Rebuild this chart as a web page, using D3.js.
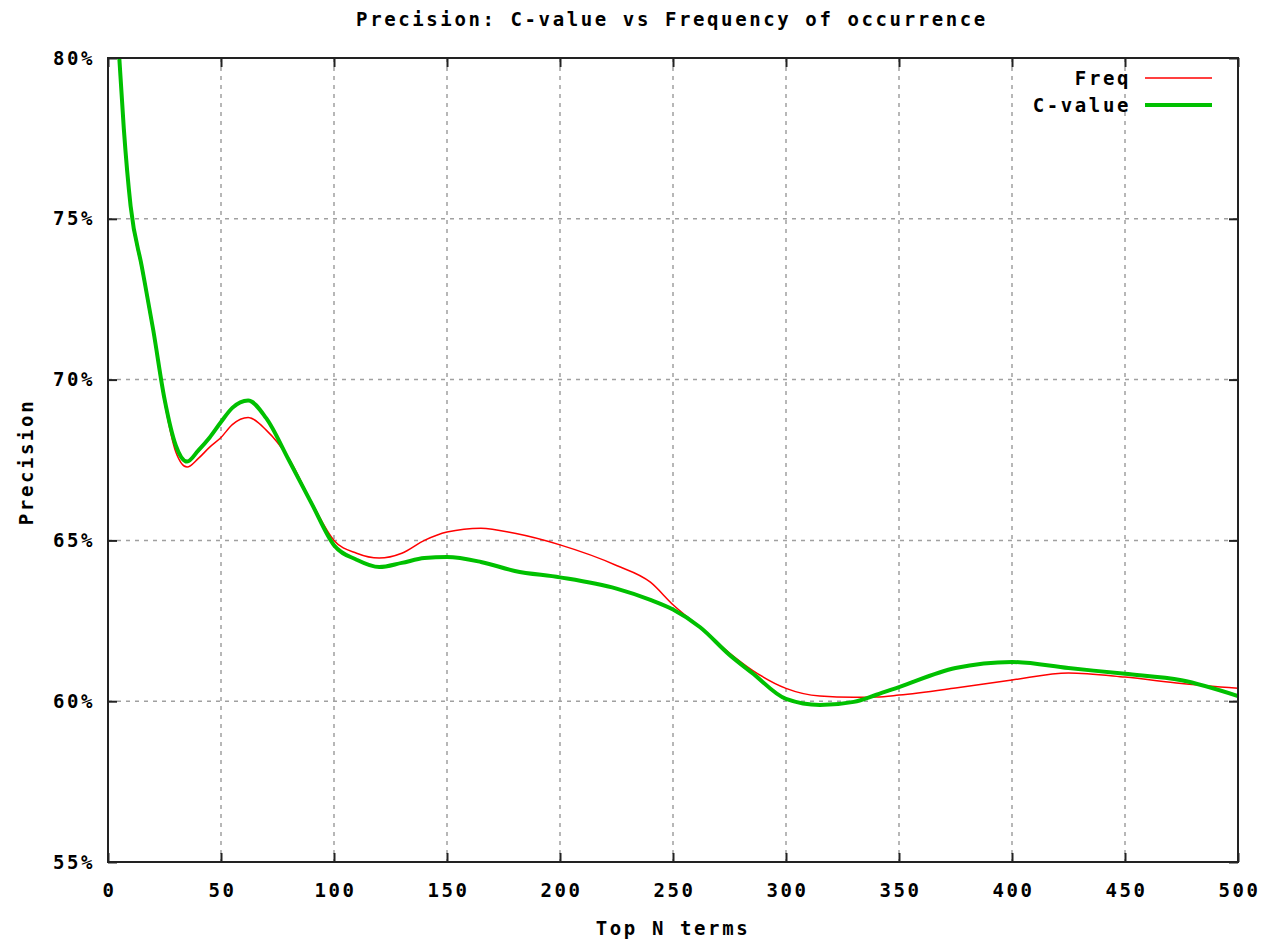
<!DOCTYPE html>
<html>
<head>
<meta charset="utf-8">
<script src="https://cdn.jsdelivr.net/npm/d3@7"></script>
<style>
  body { margin: 0; background: #fff; }
  text { font-family: "DejaVu Sans Mono", "Liberation Mono", monospace; font-weight: bold; font-size: 19px; letter-spacing: 2.6px; fill: #000; }
</style>
</head>
<body>
<div id="chart"></div>
<script>
const width = 1266, height = 940,
    left = 108, top_ = 58, right = 1238, bottom = 862,
    tick_len = 9, grid_color = "#a0a0a0", border_color = "#222",
    freq_color = "#ff0000", cvalue_color = "#00c000"

// Top N terms
const topN = [5, 7, 10, 15, 20, 25, 30, 35, 40, 45, 50, 55, 62, 70, 80, 90, 100, 110, 120, 130, 140, 150, 165, 180, 200, 225, 240, 250, 262, 275, 285, 300, 315, 330, 340, 350, 375, 400, 425, 450, 475, 500]

// precision in %
const freq = [80.0, 77.7, 75.3, 73.4, 71.45, 69.3, 67.75, 67.28, 67.55, 67.9, 68.2, 68.6, 68.82, 68.43, 67.55, 66.2, 65.0, 64.6, 64.45, 64.6, 65.0, 65.26, 65.38, 65.22, 64.86, 64.22, 63.7, 63.0, 62.3, 61.5, 60.97, 60.4, 60.16, 60.12, 60.13, 60.19, 60.41, 60.66, 60.88, 60.75, 60.55, 60.4]
const cvalue = [80.0, 77.8, 75.4, 73.5, 71.55, 69.4, 67.95, 67.45, 67.8, 68.2, 68.68, 69.12, 69.35, 68.8, 67.5, 66.16, 64.85, 64.4, 64.17, 64.3, 64.45, 64.48, 64.33, 64.05, 63.85, 63.5, 63.15, 62.85, 62.3, 61.44, 60.88, 60.07, 59.88, 59.98, 60.2, 60.44, 61.03, 61.22, 61.03, 60.85, 60.65, 60.16]

const xTicks = [0, 50, 100, 150, 200, 250, 300, 350, 400, 450, 500]
const yTicks = [55, 60, 65, 70, 75, 80]

const series = [
    {name: "Freq", values: freq, color: freq_color, width: 1.5},
    {name: "C-value", values: cvalue, color: cvalue_color, width: 4}
]

let svg = d3.select("#chart")
    .append("svg")
    .attr("width", width)
    .attr("height", height)

let x = d3.scaleLinear().domain([0, 500]).range([left, right])
let y = d3.scaleLinear().domain([55, 80]).range([bottom, top_])

// grid
let grid = svg.append("g").attr("class", "grid")
grid.selectAll("line.v")
    .data(xTicks.slice(1, -1))
    .enter().append("line")
    .attr("x1", d => x(d)).attr("x2", d => x(d))
    .attr("y1", top_).attr("y2", bottom)
grid.selectAll("line.h")
    .data(yTicks.slice(1, -1))
    .enter().append("line")
    .attr("x1", left).attr("x2", right)
    .attr("y1", d => y(d)).attr("y2", d => y(d))
grid.selectAll("line")
    .attr("stroke", grid_color)
    .attr("stroke-width", 1.5)
    .attr("stroke-dasharray", "4,5")

// axes with inward ticks on all four sides
function styleAxis(g) {
    g.select(".domain").remove()
    g.selectAll(".tick line").attr("stroke", border_color).attr("stroke-width", 2)
}

svg.append("g")
    .attr("transform", "translate(0," + bottom + ")")
    .call(d3.axisBottom(x).tickValues(xTicks).tickSizeInner(-tick_len).tickSizeOuter(0).tickPadding(22))
    .call(styleAxis)
    .selectAll("text").attr("dx", "1px")

svg.append("g")
    .attr("transform", "translate(0," + top_ + ")")
    .call(d3.axisTop(x).tickValues(xTicks).tickSizeInner(-tick_len).tickSizeOuter(0).tickFormat(""))
    .call(styleAxis)

svg.append("g")
    .attr("transform", "translate(" + left + ",0)")
    .call(d3.axisLeft(y).tickValues(yTicks).tickSizeInner(-tick_len).tickSizeOuter(0).tickPadding(13).tickFormat(d => d + "%"))
    .call(styleAxis)

svg.append("g")
    .attr("transform", "translate(" + right + ",0)")
    .call(d3.axisRight(y).tickValues(yTicks).tickSizeInner(-tick_len).tickSizeOuter(0).tickFormat(""))
    .call(styleAxis)

svg.selectAll(".tick text")
    .style("font-family", "'DejaVu Sans Mono', monospace")
    .style("font-size", "19px")
    .style("font-weight", "bold")
    .attr("fill", "#000")

// lines
let line = d3.line()
    .x((d, i) => x(topN[i]))
    .y(d => y(d))
    .curve(d3.curveMonotoneX)

svg.append("defs").append("clipPath").attr("id", "clip")
    .append("rect").attr("x", left).attr("y", top_)
    .attr("width", right - left).attr("height", bottom - top_)

svg.append("g").attr("clip-path", "url(#clip)")
    .selectAll("path")
    .data(series)
    .enter().append("path")
    .attr("d", d => line(d.values))
    .attr("fill", "none")
    .attr("stroke", d => d.color)
    .attr("stroke-width", d => d.width)
    .attr("stroke-linejoin", "round")

// border
svg.append("rect")
    .attr("x", left).attr("y", top_)
    .attr("width", right - left).attr("height", bottom - top_)
    .attr("fill", "none")
    .attr("stroke", border_color)
    .attr("stroke-width", 2)

// legend
let legend = svg.append("g").selectAll("g")
    .data(series)
    .enter().append("g")
    .attr("transform", (d, i) => "translate(0," + (78 + i * 27) + ")")
legend.append("text")
    .attr("x", 1131)
    .attr("y", 7)
    .attr("text-anchor", "end")
    .text(d => d.name)
legend.append("line")
    .attr("x1", 1145).attr("x2", 1212)
    .attr("stroke", d => d.color)
    .attr("stroke-width", d => d.width)

// titles
svg.append("text")
    .attr("x", 672).attr("y", 26)
    .attr("text-anchor", "middle")
    .text("Precision: C-value vs Frequency of occurrence")

svg.append("text")
    .attr("x", 673).attr("y", 935)
    .attr("text-anchor", "middle")
    .text("Top N terms")

svg.append("text")
    .attr("transform", "translate(33,462) rotate(-90)")
    .attr("text-anchor", "middle")
    .text("Precision")
</script>
</body>
</html>
